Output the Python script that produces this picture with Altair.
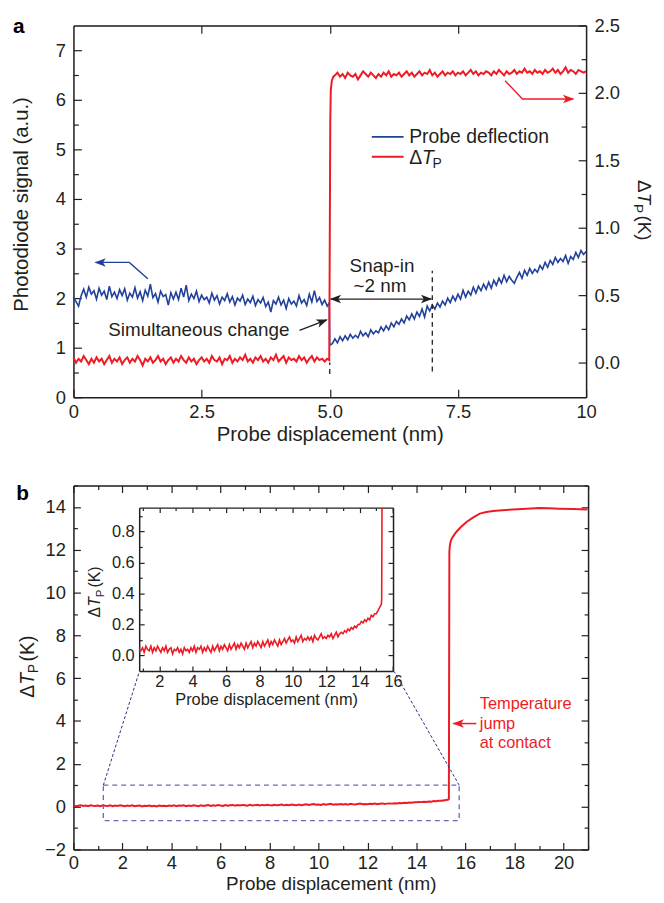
import math
import altair as alt
import pandas as pd

FONT = "Liberation Sans"
INK = "#231f20"
BLUE = "#21409a"
RED = "#ed1c24"
FS = 18.5
TFS = 20.5
NFS = 19

# ---------------- panel a data ----------------
A_STEP = 0.05
a_blue_pre = [2.02, 1.93, 1.84, 2.05, 2.18, 2.02, 2.22, 2.08, 2.15, 1.98,
              2.20, 2.06, 2.14, 1.97, 2.24, 2.03, 2.12, 1.99, 2.17, 2.05,
              2.19, 1.96, 2.10, 2.02, 2.21, 2.00, 2.13, 1.95, 2.16, 2.04,
              2.28, 2.01, 2.09, 1.92, 2.14, 2.03, 2.07, 1.86, 2.11, 1.98,
              2.12, 1.97, 2.20, 2.02, 2.26, 1.95, 2.08, 1.99, 2.14, 1.93,
              2.06, 1.97, 2.02, 1.90, 2.10, 1.96, 2.05, 1.88, 2.02, 1.95,
              2.09, 1.92, 2.03, 1.86, 2.00, 1.94, 2.06, 1.87, 1.98, 1.91,
              2.04, 1.85, 1.97, 1.90, 2.01, 1.83, 1.92, 1.72, 1.95, 1.88,
              2.02, 1.86, 1.96, 1.79, 1.99, 1.88, 1.94, 1.84, 2.05, 1.90,
              1.97, 1.85, 2.08, 1.92, 2.15, 1.93, 2.01, 1.87, 1.96, 1.84]
a_blue_drop_x = [4.99, 5.00]
a_blue_drop_y = [1.90, 1.05]
a_blue_post = [1.08, 1.18, 1.10, 1.22, 1.14, 1.24, 1.16, 1.27, 1.19, 1.25,
               1.20, 1.33, 1.24, 1.30, 1.22, 1.36, 1.28, 1.34, 1.30, 1.42,
               1.34, 1.44, 1.36, 1.50, 1.42, 1.53, 1.47, 1.58, 1.50, 1.64,
               1.56, 1.68, 1.58, 1.72, 1.63, 1.78, 1.62, 1.84, 1.74, 1.86,
               1.78, 1.90, 1.82, 1.94, 1.86, 2.00, 1.91, 2.04, 1.95, 2.08,
               1.98, 2.16, 2.02, 2.14, 2.06, 2.22, 2.10, 2.24, 2.15, 2.28,
               2.18, 2.32, 2.20, 2.36, 2.26, 2.40, 2.30, 2.46, 2.33, 2.44,
               2.36, 2.30, 2.42, 2.52, 2.40, 2.56, 2.46, 2.60, 2.50, 2.58,
               2.52, 2.66, 2.58, 2.72, 2.62, 2.76, 2.68, 2.82, 2.72, 2.80,
               2.74, 2.86, 2.70, 2.84, 2.78, 2.92, 2.82, 2.96, 2.88, 2.94]
a_red_pre = [0.04, 0.00, 0.03, 0.01, 0.05, 0.02, -0.01, 0.03, 0.00, 0.04,
             0.01, 0.03, -0.01, 0.02, 0.05, 0.00, 0.03, 0.01, 0.04, -0.01,
             0.02, 0.04, 0.00, 0.03, 0.01, 0.05, 0.02, -0.02, 0.03, 0.01,
             0.04, 0.00, 0.02, 0.05, 0.01, 0.03, -0.01, 0.02, 0.04, 0.00,
             0.03, 0.01, 0.05, 0.02, 0.00, 0.04, 0.01, 0.03, -0.01, 0.02,
             0.04, 0.01, 0.03, 0.00, 0.05, 0.02, 0.01, 0.04, -0.01, 0.03,
             0.02, 0.05, 0.00, 0.03, 0.01, 0.04, 0.02, 0.06, 0.01, 0.03,
             0.00, 0.04, 0.02, 0.05, 0.01, 0.03, 0.00, 0.04, 0.02, 0.06,
             0.01, 0.03, 0.05, 0.00, 0.04, 0.02, 0.03, 0.01, 0.05, 0.02,
             0.04, 0.00, 0.03, 0.05, 0.01, 0.04, 0.02, 0.03, 0.01, 0.03]
a_red_jump_x = [4.99, 5.00, 5.01, 5.02, 5.04, 5.07]
a_red_jump_y = [0.02, 0.90, 1.80, 2.02, 2.09, 2.12]
a_red_post = [2.13, 2.15, 2.12, 2.14, 2.11, 2.15, 2.13, 2.12, 2.14, 2.10,
              2.13, 2.16, 2.14, 2.12, 2.15, 2.13, 2.11, 2.14, 2.12, 2.15,
              2.13, 2.16, 2.12, 2.14, 2.13, 2.15, 2.12, 2.14, 2.16, 2.13,
              2.15, 2.12, 2.14, 2.16, 2.13, 2.15, 2.14, 2.17, 2.13, 2.15,
              2.12, 2.14, 2.16, 2.13, 2.15, 2.14, 2.16, 2.13, 2.15, 2.14,
              2.16, 2.13, 2.15, 2.17, 2.14, 2.16, 2.13, 2.15, 2.14, 2.16,
              2.15, 2.13, 2.16, 2.14, 2.17, 2.15, 2.13, 2.16, 2.14, 2.15,
              2.17, 2.14, 2.16, 2.15, 2.18, 2.15, 2.16, 2.14, 2.17, 2.15,
              2.16, 2.14, 2.17, 2.15, 2.16, 2.18, 2.15, 2.17, 2.14, 2.16,
              2.19, 2.15, 2.17, 2.16, 2.14, 2.17, 2.16, 2.15, 2.16]

a_x_ticks = [0, 2.5, 5, 7.5, 10]
a_top_ticks = [2.5, 5, 7.5]
a_left_ticks = [0, 1, 2, 3, 4, 5, 6, 7]
a_left_minor = [0.5, 1.5, 2.5, 3.5, 4.5, 5.5, 6.5]
a_right_ticks = [0, 0.5, 1.0, 1.5, 2.0, 2.5]
a_right_minor = [0.25, 0.75, 1.25, 1.75, 2.25]

# annotations panel a (data units)
a_blue_arrow_x = [1.45, 1.09, 0.43]
a_blue_arrow_y = [2.39, 2.72, 2.72]
a_red_arrow_x = [8.42, 8.76, 9.75]
a_red_arrow_y = [2.09, 1.955, 1.955]
a_snap_x = [5.02, 6.98]
a_snap_y = [1.98, 1.98]
a_sim_x = [4.41, 4.94]
a_sim_y = [1.35, 1.56]
a_dash_x = [7.0, 7.0, 5.0, 5.0]
a_dash_y = [0.52, 2.55, 0.47, 0.70]
a_dash_seg = [0, 0, 1, 1]

# ---------------- panel b data ----------------
B_STEP = 0.1
b_pre = [0.05, 0.02, 0.04, 0.06, 0.03, 0.05, 0.02, 0.06, 0.04, 0.03,
         0.05, 0.02, 0.06, 0.04, 0.03, 0.06, 0.02, 0.05, 0.03, 0.06,
         0.04, 0.02, 0.05, 0.03, 0.06, 0.02, 0.04, 0.05, 0.01, 0.04,
         0.03, 0.05, 0.02, 0.04, 0.01, 0.05, 0.03, 0.04, 0.02, 0.05,
         0.03, 0.06, 0.02, 0.05, 0.04, 0.06, 0.02, 0.05, 0.03, 0.06,
         0.04, 0.02, 0.06, 0.03, 0.05, 0.07, 0.03, 0.06, 0.04, 0.07,
         0.05, 0.03, 0.07, 0.04, 0.06, 0.08, 0.04, 0.07, 0.05, 0.08,
         0.06, 0.04, 0.08, 0.05, 0.07, 0.09, 0.05, 0.08, 0.06, 0.09,
         0.07, 0.05, 0.09, 0.06, 0.08, 0.10, 0.06, 0.09, 0.07, 0.10,
         0.08, 0.06, 0.10, 0.07, 0.09, 0.11, 0.08, 0.10, 0.12, 0.09,
         0.10, 0.08, 0.12, 0.09, 0.11, 0.13, 0.09, 0.11, 0.10, 0.12,
         0.10, 0.12, 0.09, 0.13, 0.11, 0.10, 0.12, 0.14, 0.11, 0.12,
         0.11, 0.13, 0.12, 0.14, 0.11, 0.13, 0.15, 0.12, 0.14, 0.15,
         0.14, 0.16, 0.15, 0.17, 0.16, 0.18, 0.17, 0.19, 0.18, 0.20,
         0.20, 0.22, 0.21, 0.23, 0.22, 0.24, 0.23, 0.26, 0.25, 0.27,
         0.27, 0.29, 0.31, 0.33]
b_jump_x = [15.32, 15.34, 15.36, 15.39, 15.45, 15.55, 15.63, 15.80, 16.04, 16.30,
            16.58, 16.85, 17.12, 17.50, 17.93, 18.50, 19.00, 19.40, 19.82, 20.40, 20.97]
b_jump_y = [0.36, 11.90, 12.20, 12.38, 12.55, 12.72, 12.84, 13.05, 13.30, 13.50,
            13.69, 13.76, 13.81, 13.85, 13.88, 13.92, 13.95, 13.94, 13.92, 13.90, 13.88]

b_x_ticks = [0, 2, 4, 6, 8, 10, 12, 14, 16, 18, 20]
b_x_minor = [1, 3, 5, 7, 9, 11, 13, 15, 17, 19, 21]
b_y_ticks = [-2, 0, 2, 4, 6, 8, 10, 12, 14]
b_y_minor = [-1, 1, 3, 5, 7, 9, 11, 13, 15]
i_x_ticks = [2, 4, 6, 8, 10, 12, 14, 16]
i_x_minor = [1, 3, 5, 7, 9, 11, 13, 15]
i_y_ticks = [0.0, 0.2, 0.4, 0.6, 0.8]
i_y_minor = [0.1, 0.3, 0.5, 0.7, 0.9]

b_rect_x = [1.22]
b_rect_x2 = [15.74]
b_rect_y = [-0.65]
b_rect_y2 = [1.0]
b_conn_x = [1.22, 2.69, 15.74, 13.09]
b_conn_y = [1.0, 6.31, 1.0, 6.31]
b_conn_seg = [0, 0, 1, 1]
b_arrow_x = [16.44, 15.50]
b_arrow_y = [3.88, 3.88]
b_note = ["Temperature", "jump", "at contact"]
b_note_y = [4.80, 3.88, 2.99]

# ---------------- geometry ----------------
WA, HA = 517, 375
WB, HB = 519, 367
I_XR = [66.3, 322.3]
I_YR = [187.0, 22.3]


def xs(start, step, n):
    return [round(start + i * step, 3) for i in range(n)]


ONE = pd.DataFrame({"k": [0]})
DUMMY = pd.DataFrame({"x": [0.0], "y": [0.0]})


def sc(domain, rng=None, clamp=False):
    kw = dict(domain=domain, nice=False, zero=False)
    if rng is not None:
        kw["range"] = rng
    if clamp:
        kw["clamp"] = True
    return alt.Scale(**kw)


def axis(orient, values, size, labels=False, domain=True, title=None, fs=FS,
         pad=6, offset=None, fmt=None, label_expr=None, title_pad=None, title_fs=None,
         title_y=None):
    kw = dict(orient=orient, values=values, ticks=True,
              tickSize=alt.ExprRef(expr=str(-size)), tickColor=INK, tickWidth=1.2,
              domain=domain, grid=False, labels=labels, title=title, minExtent=0)
    if domain:
        kw.update(domainColor=INK, domainWidth=1.5)
    if labels:
        kw.update(labelFont=FONT, labelFontSize=fs, labelColor=INK,
                  labelPadding=pad + size, labelFlush=False, labelOverlap=False)
        if fmt:
            kw["format"] = fmt
        if label_expr:
            kw["labelExpr"] = label_expr
    if title:
        kw.update(titleFont=FONT, titleFontSize=title_fs or TFS, titleColor=INK,
                  titleFontWeight="normal")
        if title_pad is not None:
            kw["titlePadding"] = title_pad
        if title_y is not None:
            kw["titleY"] = title_y
    if offset is not None:
        kw["offset"] = offset
    return alt.Axis(**kw)


def tick_layer(xscale, yscale, xaxis, yaxis):
    enc = {}
    enc["x"] = alt.X("x:Q", scale=xscale, axis=xaxis) if xaxis is not None else alt.X("x:Q", scale=xscale, axis=None)
    enc["y"] = alt.Y("y:Q", scale=yscale, axis=yaxis) if yaxis is not None else alt.Y("y:Q", scale=yscale, axis=None)
    return alt.Chart(DUMMY).mark_point(opacity=0).encode(**enc)


def delta_tp(ax0, ay0, angle, fs, color=INK, tail=" (K)"):
    th = math.radians(angle)
    d = (math.cos(th), math.sin(th))
    n = (-math.sin(th), math.cos(th))
    fsub = fs * 0.72
    pieces = [("Δ", fs, "normal", 0.0, 0.667 * fs),
              ("T", fs, "italic", 0.0, 0.60 * fs),
              ("P", fsub, "normal", 0.22 * fs, 0.85 * fsub)]
    if tail:
        pieces.append((tail, fs, "normal", 0.0, 0))
    out = []
    off = 0.0
    for t, size, style, shift, adv in pieces:
        x = ax0 + d[0] * off + n[0] * shift
        y = ay0 + d[1] * off + n[1] * shift
        out.append(alt.Chart(ONE).mark_text(text=t, font=FONT, fontSize=size, fontStyle=style,
                                            angle=angle, align="left", baseline="alphabetic",
                                            color=color).encode(x=alt.value(x), y=alt.value(y)))
        off += adv
    return out


ARROW = "M 0 0 L 2 -0.75 L 1.5 0 L 2 0.75 Z"


def arrow_head(x, y, angle, xscale, yscale, color, size=130):
    df = pd.DataFrame({"x": [x], "y": [y]})
    return alt.Chart(df).mark_point(shape=ARROW, filled=True, fill=color, stroke=None,
                                    opacity=1, size=size, angle=angle).encode(
        x=alt.X("x:Q", scale=xscale, axis=None), y=alt.Y("y:Q", scale=yscale, axis=None))


def line_ann(xv, yv, seg, xscale, yscale, color, width=1.4, dash=None):
    df = pd.DataFrame({"x": xv, "y": yv, "s": seg, "o": list(range(len(xv)))})
    kw = dict(color=color, strokeWidth=width)
    if dash:
        kw["strokeDash"] = dash
    return alt.Chart(df).mark_line(**kw).encode(
        x=alt.X("x:Q", scale=xscale, axis=None), y=alt.Y("y:Q", scale=yscale, axis=None),
        detail="s:N", order="o:Q")


def text_ann(texts, xv, yv, xscale, yscale, size=NFS, align="left", color=INK, style="normal",
             baseline="middle", dx=0, dy=0):
    df = pd.DataFrame({"t": texts, "x": xv, "y": yv})
    return alt.Chart(df).mark_text(font=FONT, fontSize=size, align=align, baseline=baseline,
                                   color=color, fontStyle=style, dx=dx, dy=dy).encode(
        x=alt.X("x:Q", scale=xscale, axis=None), y=alt.Y("y:Q", scale=yscale, axis=None), text="t:N")


# ---------------- panel a ----------------
SAX = lambda: sc([0, 10])
SAL = lambda: sc([0, 7.5])
SAR = lambda: sc([-0.2555, 2.5])

blue_x = xs(0, A_STEP, len(a_blue_pre)) + a_blue_drop_x + xs(5.05, A_STEP, len(a_blue_post))
blue_y = a_blue_pre + a_blue_drop_y + a_blue_post
red_x = xs(0, A_STEP, len(a_red_pre)) + a_red_jump_x + xs(5.10, A_STEP, len(a_red_post))
red_y = a_red_pre + a_red_jump_y + a_red_post
df_blue = pd.DataFrame({"x": blue_x, "y": blue_y})
df_red = pd.DataFrame({"x": red_x, "y": red_y})

a_xlabel = "datum.value == 0 || datum.value == 10 ? format(datum.value, 'd') : format(datum.value, '.1f')"

blue = alt.Chart(df_blue).mark_line(color=BLUE, strokeWidth=1.6).encode(
    x=alt.X("x:Q", scale=SAX(), axis=axis("bottom", a_x_ticks, 8, labels=True,
                                           title="Probe displacement (nm)", label_expr=a_xlabel,
                                           pad=5, title_pad=4)),
    y=alt.Y("y:Q", scale=SAL(), axis=axis("left", a_left_ticks, 8, labels=True,
                                          title="Photodiode signal (a.u.)", fmt="d", pad=8,
                                          title_pad=24, title_y=180)),
)
red = alt.Chart(df_red).mark_line(color=RED, strokeWidth=2).encode(
    x=alt.X("x:Q", scale=SAX(), axis=axis("top", a_top_ticks, 8)),
    y=alt.Y("y:Q", scale=SAR(), axis=axis("right", a_right_ticks, 8, labels=True, fmt=".1f", pad=8)),
)
a_minor = tick_layer(SAX(), SAL(), None, axis("left", a_left_minor, 5, domain=False))
a_minor_r = tick_layer(SAX(), SAR(), None, axis("right", a_right_minor, 5, domain=False))

a_layers = [blue, red, a_minor, a_minor_r]
a_layers.append(line_ann(a_dash_x, a_dash_y, a_dash_seg, SAX(), SAL(), INK, 1.3, [5, 4]))
a_layers.append(line_ann(a_blue_arrow_x, a_blue_arrow_y, [0, 0, 0], SAX(), SAL(), BLUE, 1.4))
a_layers.append(arrow_head(0.41, 2.72, 0, SAX(), SAL(), BLUE))
a_layers.append(line_ann(a_red_arrow_x, a_red_arrow_y, [0, 0, 0], SAX(), SAR(), RED, 1.4))
a_layers.append(arrow_head(9.77, 1.955, 180, SAX(), SAR(), RED))
a_layers.append(line_ann(a_snap_x, a_snap_y, [0, 0], SAX(), SAL(), INK, 1.4))
a_layers.append(arrow_head(5.0, 1.98, 0, SAX(), SAL(), INK))
a_layers.append(arrow_head(7.0, 1.98, 180, SAX(), SAL(), INK))
a_layers.append(line_ann(a_sim_x, a_sim_y, [0, 0], SAX(), SAL(), INK, 1.4))
a_layers.append(arrow_head(4.96, 1.57, 158.8, SAX(), SAL(), INK))
a_layers.append(text_ann(["Simultaneous change"], [0.68], [1.35], SAX(), SAL()))
a_layers.append(text_ann(["Snap-in", "~2 nm"], [6.02, 5.98], [2.65, 2.25], SAX(), SAL(), align="center"))
# legend
a_layers.append(alt.Chart(pd.DataFrame({"x": [5.82], "x2": [6.44], "y": [5.25]})).mark_rule(
    color=BLUE, strokeWidth=1.8).encode(x=alt.X("x:Q", scale=SAX(), axis=None), x2="x2:Q",
                                        y=alt.Y("y:Q", scale=SAL(), axis=None)))
a_layers.append(alt.Chart(pd.DataFrame({"x": [5.82], "x2": [6.44], "y": [4.85]})).mark_rule(
    color=RED, strokeWidth=2).encode(x=alt.X("x:Q", scale=SAX(), axis=None), x2="x2:Q",
                                     y=alt.Y("y:Q", scale=SAL(), axis=None)))
a_layers.append(text_ann(["Probe deflection"], [6.55], [5.25], SAX(), SAL(), size=19.5))
a_layers.append(text_ann(["Δ"], [6.55], [4.85], SAX(), SAL(), size=19.5, baseline="alphabetic", dy=7))
a_layers.append(text_ann(["T"], [6.55], [4.85], SAX(), SAL(), size=19.5, baseline="alphabetic", dy=7, dx=12.8, style="italic"))
a_layers.append(text_ann(["P"], [6.55], [4.85], SAX(), SAL(), size=14, baseline="alphabetic", dy=11, dx=23.5))
# right axis title and panel label
a_layers += delta_tp(569.5, 156, 90, 19)
a_layers.append(alt.Chart(ONE).mark_text(text="a", font=FONT, fontSize=21, fontWeight="bold",
                                         align="left", baseline="alphabetic", color="black").encode(
    x=alt.value(-61), y=alt.value(7.8)))

panel_a = alt.layer(*a_layers).resolve_scale(x="independent", y="independent").resolve_axis(
    x="independent", y="independent").properties(width=WA, height=HA)

# ---------------- panel b ----------------
SBX = lambda: sc([0, 21])
SBY = lambda: sc([-2, 15])
SIX = lambda: sc([0.8, 16], I_XR, clamp=True)
SIY = lambda: sc([-0.10, 0.955], I_YR, clamp=True)

b_x = xs(0, B_STEP, len(b_pre)) + b_jump_x
b_y = b_pre + b_jump_y
df_b = pd.DataFrame({"x": b_x, "y": b_y})
df_i = df_b[(df_b["x"] >= 0.8) & (df_b["x"] <= 15.34)]

b_main = alt.Chart(df_b).mark_line(color=RED, strokeWidth=2).encode(
    x=alt.X("x:Q", scale=SBX(), axis=axis("bottom", b_x_ticks, 7, labels=True, fmt="d",
                                          title="Probe displacement (nm)", title_fs=19,
                                          pad=4, title_pad=2.5)),
    y=alt.Y("y:Q", scale=SBY(), axis=axis("left", b_y_ticks, 7, labels=True, fmt="d", pad=8)),
)
b_layers = [b_main,
            tick_layer(SBX(), SBY(), axis("top", b_x_ticks, 7), axis("right", b_y_ticks, 7)),
            tick_layer(SBX(), SBY(), axis("bottom", b_x_minor, 4, domain=False),
                       axis("left", b_y_minor, 4, domain=False)),
            tick_layer(SBX(), SBY(), axis("top", b_x_minor, 4, domain=False),
                       axis("right", b_y_minor, 4, domain=False))]

i_main = alt.Chart(df_i).mark_line(color=RED, strokeWidth=1.6).encode(
    x=alt.X("x:Q", scale=SIX(), axis=axis("bottom", i_x_ticks, 5, labels=True, fmt="d", fs=16.5,
                                          title="Probe displacement (nm)", title_fs=16.5, pad=3,
                                          title_pad=1, offset=I_YR[0] - HB)),
    y=alt.Y("y:Q", scale=SIY(), axis=axis("left", i_y_ticks, 5, labels=True, fmt=".1f", fs=16.5,
                                          pad=5, offset=-I_XR[0])),
)
b_layers += [i_main,
             tick_layer(SIX(), SIY(), axis("top", i_x_ticks, 5, offset=-I_YR[1]),
                        axis("right", i_y_ticks, 5, offset=I_XR[1] - WB)),
             tick_layer(SIX(), SIY(), axis("bottom", i_x_minor, 3, domain=False, offset=I_YR[0] - HB),
                        axis("left", i_y_minor, 3, domain=False, offset=-I_XR[0])),
             tick_layer(SIX(), SIY(), axis("top", i_x_minor, 3, domain=False, offset=-I_YR[1]),
                        axis("right", i_y_minor, 3, domain=False, offset=I_XR[1] - WB))]

b_layers.append(alt.Chart(pd.DataFrame({"x": b_rect_x, "x2": b_rect_x2, "y": b_rect_y, "y2": b_rect_y2}))
                .mark_rect(fillOpacity=0, stroke="#6a6ab4", strokeWidth=1.3, strokeDash=[5, 4])
                .encode(x=alt.X("x:Q", scale=SBX(), axis=None), x2="x2:Q",
                        y=alt.Y("y:Q", scale=SBY(), axis=None), y2="y2:Q"))
b_layers.append(line_ann(b_conn_x, b_conn_y, b_conn_seg, SBX(), SBY(), "#2e2e7e", 1.0, [3, 2]))
b_layers.append(line_ann(b_arrow_x, b_arrow_y, [0, 0], SBX(), SBY(), RED, 1.5))
b_layers.append(arrow_head(15.47, 3.88, 0, SBX(), SBY(), RED))
b_layers.append(text_ann(b_note, [16.58] * 3, b_note_y, SBX(), SBY(), size=16.5, color=RED))
b_layers += delta_tp(-40, 214, 270, 19.5)
b_layers += delta_tp(27, 133, 270, 16)
b_layers.append(alt.Chart(ONE).mark_text(text="b", font=FONT, fontSize=21, fontWeight="bold",
                                         align="left", baseline="alphabetic", color="black").encode(
    x=alt.value(-57.7), y=alt.value(15)))

panel_b = alt.layer(*b_layers).resolve_scale(x="independent", y="independent").resolve_axis(
    x="independent", y="independent").properties(width=WB, height=HB)

chart = alt.vconcat(panel_a, panel_b, spacing=37).properties(
    padding={"left": 3, "top": 3.8, "right": 2.5, "bottom": 0}
).configure_view(stroke=None).configure(background="white")

chart.save("out.html", embed_options={"renderer": "svg", "actions": False})
